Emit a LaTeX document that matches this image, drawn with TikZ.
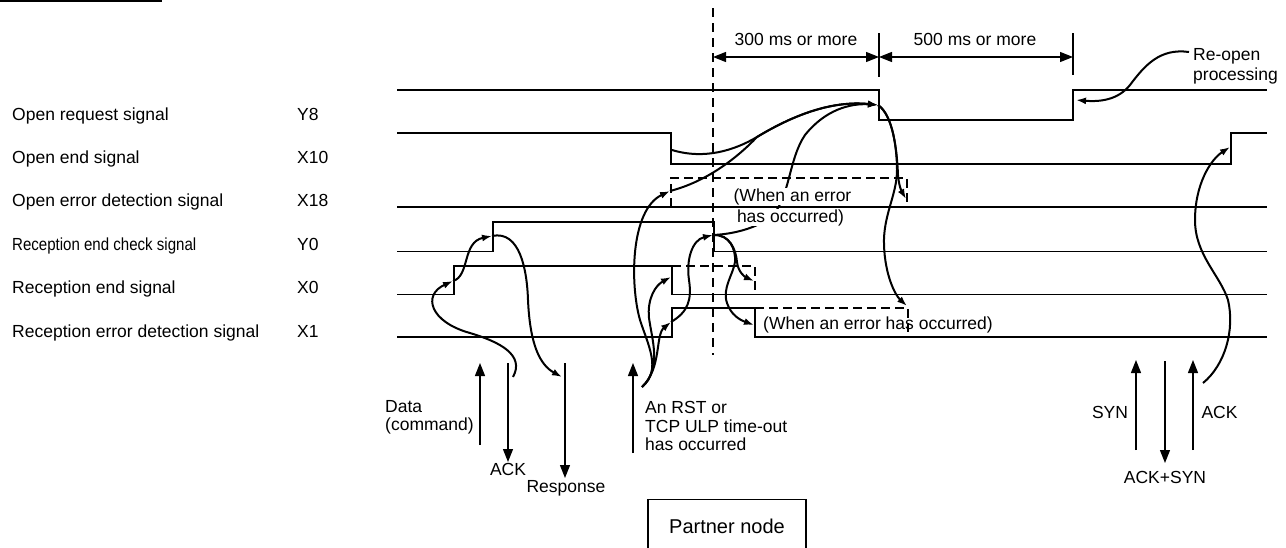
\documentclass[tikz,border=0pt]{standalone}
\usepackage{fontspec}
\usepackage{graphicx}
\setmainfont{Liberation Sans}
\usetikzlibrary{arrows.meta}
\newcommand\txtfont{\fontsize{17.5}{20}\selectfont}
\newcommand\bigtxtfont{\fontsize{20}{24}\selectfont}
\begin{document}
\begin{tikzpicture}[x=1pt,y=-1pt,
  every node/.style={inner sep=0pt,font=\txtfont},
  sig/.style={line width=1.4pt},
  dsig/.style={line width=1.3pt,dash pattern=on 9pt off 5pt},
  vdash/.style={line width=1.3pt,dash pattern=on 9pt off 6pt},
  flow/.style={line width=2pt,-{Latex[length=10pt,width=7pt]}},
  evt/.style={line width=1.3pt,-{Triangle[length=13pt,width=10pt]}},
  dimarrow/.style={line width=1.3pt,{Triangle[length=13pt,width=10pt]}-{Triangle[length=13pt,width=10pt]}},
  lab/.style={anchor=base west},
  clab/.style={anchor=base},
]
\useasboundingbox (0,0) rectangle (1286,547);
\fill[white] (0,0) rectangle (1286,547);

% header rule
\draw[line width=2pt] (0,1) -- (162,1);

% signal names
\node[lab] (nY8) at (12,120) {Open request signal};
\node[lab] (nX10) at (12,163) {Open end signal};
\node[lab] (nX18) at (12,206.5) {Open error detection signal};
\node[lab] (nY0) at (12,250) {\scalebox{0.86}[1]{Reception end check signal}};
\node[lab] (nX0) at (12,293.5) {Reception end signal};
\node[lab] (nX1) at (12,337) {Reception error detection signal};
\node[lab] (dY8) at (297,120) {Y8};
\node[lab] (dX10) at (297,163) {X10};
\node[lab] (dX18) at (297,206.5) {X18};
\node[lab] (dY0) at (297,250) {Y0};
\node[lab] (dX0) at (297,293.5) {X0};
\node[lab] (dX1) at (297,337) {X1};

% waveforms
\draw[sig] (397,90) -| (879,120) -| (1073,90) -- (1267,90);
\draw[sig] (397,133) -| (671,164) -| (1231,133) -- (1267,133);
\draw[sig] (397,207) -- (1267,207);
\draw[dsig] (671,207) |- (907,178) -- (907,207);
\draw[sig] (397,251.5) -| (493,222) -| (714,251.5) -- (1267,251.5);
\draw[sig] (397,294.5) -| (454,266) -| (672,294.5) -- (1267,294.5);
\draw[dsig] (672,266) -| (755,294.5);
\draw[sig] (397,337) -| (672,308) -| (755,337) -- (1267,337);
\draw[dsig] (755,308) -| (908,337);

% centre dashed line
\draw[vdash] (713,8) -- (713,355);

% dimensions
\coordinate (dimA) at (713,57);
\coordinate (dimB) at (879,57);
\coordinate (dimC) at (1073,57);
\draw[sig] (879,33) -- (879,77);
\draw[sig] (1073,33) -- (1073,75);
\draw[dimarrow] (dimA) -- (dimB);
\draw[dimarrow] (dimB) -- (dimC);
\node[clab] (t300) at (796,45) {300 ms or more};
\node[clab] (t500) at (975,45) {500 ms or more};

% event coordinates
\coordinate (ackTop) at (513,377);
\coordinate (x0r) at (453,281);
\coordinate (y0r) at (492,236);
\coordinate (respTop) at (562,377);
\coordinate (rstTop) at (642,387);
\coordinate (x18r) at (670,191);
\coordinate (x0f) at (671,277);
\coordinate (x1r) at (671,322);
\coordinate (y0f) at (713,235);
\coordinate (x0df) at (754,281);
\coordinate (x1f) at (754,325);
\coordinate (x10f) at (672,150);
\coordinate (y8f) at (878,105);
\coordinate (x18df) at (906,199);
\coordinate (x1df) at (907,306);
\coordinate (y8r) at (1076,100);
\coordinate (x10r) at (1230,147);
\coordinate (ackR) at (1203,383);
\coordinate (reS) at (1189,52);

% data / ack / response chain
\draw[flow] (ackTop) .. controls (525,355) and (500,342) .. (470,333) .. controls (430,322) and (422,295) .. (x0r);
\draw[flow] (x0r) .. controls (470,276) and (462,242) .. (y0r);
\draw[flow] (y0r) .. controls (520,230) and (527,270) .. (528,300) .. controls (530,345) and (540,365) .. (respTop);

% RST chain
\draw[flow] (rstTop) .. controls (662,370) and (648,345) .. (640,320) .. controls (630,285) and (630,210) .. (x18r);
\draw[flow] (rstTop) .. controls (662,368) and (652,340) .. (649,318) .. controls (647,298) and (656,285) .. (x0f);
\draw[flow] (rstTop) .. controls (662,368) and (655,335) .. (x1r);
\draw[flow] (x1r) .. controls (688,312) and (692,300) .. (689,280) .. controls (686,260) and (692,240) .. (y0f);
\draw[flow] (y0f) .. controls (730,234) and (736,250) .. (737,262) .. controls (738,272) and (745,277) .. (x0df);
\draw[flow] (y0f) .. controls (730,234) and (736,250) .. (735,262) .. controls (733,275) and (722,288) .. (727,303) .. controls (731,315) and (740,320) .. (x1f);

% to open request falling edge
\draw[flow] (x18r) .. controls (705,182) and (735,160) .. (757,137) .. controls (790,117) and (830,100) .. (y8f);
\draw[flow] (x10f) .. controls (705,160) and (735,150) .. (757,137) .. controls (790,117) and (830,100) .. (y8f);
\draw[flow] (y0f) .. controls (735,234) and (755,228) .. (770,218) .. controls (790,200) and (788,160) .. (805,135) .. controls (825,110) and (850,103) .. (y8f);

% from open request falling edge
\draw[flow] (y8f) .. controls (893,115) and (897,150) .. (898,175) .. controls (899,187) and (902,192) .. (x18df);
\draw[flow] (y8f) .. controls (893,115) and (897,150) .. (897,170) .. controls (897,195) and (883,215) .. (884,245) .. controls (885,275) and (895,295) .. (x1df);

% re-open
\draw[flow] (reS) .. controls (1160,48) and (1145,65) .. (1130,85) .. controls (1118,100) and (1100,102) .. (y8r);
\draw[flow] (ackR) .. controls (1225,365) and (1235,330) .. (1228,300) .. controls (1220,275) and (1195,255) .. (1195,220) .. controls (1195,185) and (1210,160) .. (x10r);

% annotations
\node[clab,fill=white] (err1a) at (792.5,201) {(When an error};
\node[clab,fill=white] (err1b) at (790.5,222) {has occurred)};
\node[lab] (err2) at (763,329) {(When an error has occurred)};
\node[lab] (re1) at (1193,60) {Re-open};
\node[lab] (re2) at (1193,80) {processing};

% partner node events
\coordinate (dataB) at (480,445); \coordinate (dataT) at (480,363);
\coordinate (ackB) at (508,462); \coordinate (ackT) at (508,363);
\coordinate (respB) at (565,478); \coordinate (respT) at (565,363);
\coordinate (rstB) at (633,453); \coordinate (rstT) at (633,363);
\coordinate (synB) at (1136,450); \coordinate (synT) at (1136,360);
\coordinate (asB) at (1165,463); \coordinate (asT) at (1165,361);
\coordinate (ack2B) at (1193,450); \coordinate (ack2T) at (1193,360);
\draw[evt] (dataB) -- (dataT);
\draw[evt] (ackT) -- (ackB);
\draw[evt] (respT) -- (respB);
\draw[evt] (rstB) -- (rstT);
\draw[evt] (synB) -- (synT);
\draw[evt] (asT) -- (asB);
\draw[evt] (ack2B) -- (ack2T);

\node[lab] (data1) at (385,412) {Data};
\node[lab] (data2) at (385,430) {(command)};
\node[clab] (ackL) at (508,475) {ACK};
\node[clab] (respL) at (566,492) {Response};
\node[lab] (rst1) at (645,413) {An RST or};
\node[lab] (rst2) at (645,432) {TCP ULP time-out};
\node[lab] (rst3) at (645,450) {has occurred};
\node[clab] (synL) at (1110,418) {SYN};
\node[clab] (ack2L) at (1219.5,418) {ACK};
\node[clab] (asL) at (1165,483) {ACK+SYN};

\node[draw,line width=1.3pt,anchor=north,minimum width=158pt,minimum height=53pt,font=\bigtxtfont] (partner) at (727,499) {Partner node};
\end{tikzpicture}
\end{document}
